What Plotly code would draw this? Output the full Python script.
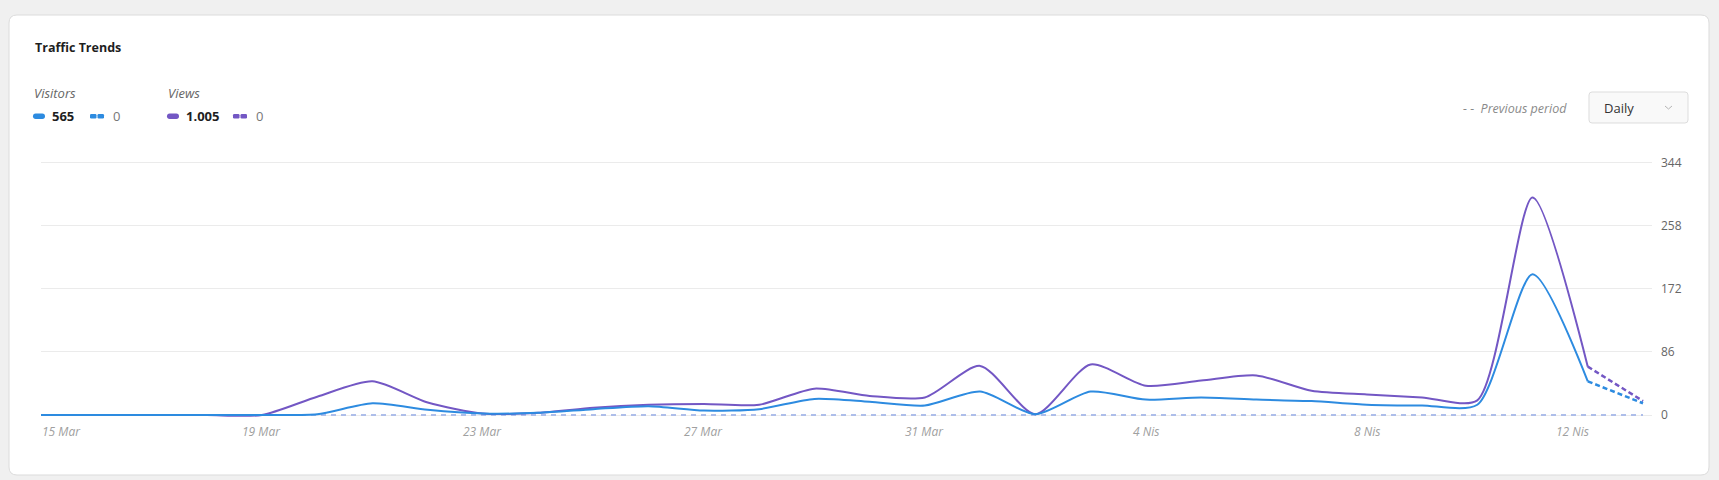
"""Traffic Trends card: daily visitors and views with previous period."""

import pandas as pd
import plotly.graph_objects as go

# ---- data -------------------------------------------------------------
dates = pd.date_range("2025-03-15", periods=30, freq="D")

visitors = [0, 0, 0, 0, 0, 1, 16, 7, 2, 3, 8, 12, 6, 8, 22, 18, 13,
            32, 1, 32, 21, 24, 21, 19, 14, 13, 14, 192, 46, 16]
views = [0, 0, 0, 0, 0, 25, 46, 17, 2, 3, 10, 14, 15, 14, 36, 26, 24,
         67, 1, 69, 40, 47, 54, 33, 28, 24, 20, 297, 66, 19]
prev_visitors = [0] * 30
prev_views = [0] * 30

tick_dates = dates[::4]
tick_labels = ["15 Mar", "19 Mar", "23 Mar", "27 Mar", "31 Mar",
               "4 Nis", "8 Nis", "12 Nis"]
y_ticks = [0, 86, 172, 258, 344]

totals = {"Visitors": ("565", "0"), "Views": ("1.005", "0")}

BLUE = "#2d8be0"
PURPLE = "#7357c4"
PREV = "#a9bbe9"
FONT = "Open Sans"

# ---- pixel helpers (plot area in page pixels) -------------------------
W, H = 1719, 480
L, R, T, B = 41, 1652, 161, 417


def px(x):
    return (x - L) / (R - L)


def py(y):
    return (B - y) / (B - T)


def rounded_path(x0, y0, x1, y1, r):
    """Rounded rectangle path in paper coords from pixel box."""
    pts = [
        ("M", [(x0 + r, y0)]),
        ("L", [(x1 - r, y0)]), ("Q", [(x1, y0), (x1, y0 + r)]),
        ("L", [(x1, y1 - r)]), ("Q", [(x1, y1), (x1 - r, y1)]),
        ("L", [(x0 + r, y1)]), ("Q", [(x0, y1), (x0, y1 - r)]),
        ("L", [(x0, y0 + r)]), ("Q", [(x0, y0), (x0 + r, y0)]),
    ]
    out = ""
    for cmd, coords in pts:
        out += cmd + " ".join(f"{px(a):.5f},{py(b):.5f}" for a, b in coords)
    return out + " Z"


fig = go.Figure()

# previous period (flat dashed)
for vals in (prev_views, prev_visitors):
    fig.add_trace(go.Scatter(
        x=dates, y=vals, mode="lines",
        line=dict(color=PREV, width=1.5, dash="5px,5px"),
        hoverinfo="skip", showlegend=False))

# current period: solid up to 12 Nis, dashed to today
for vals, color in ((views, PURPLE), (visitors, BLUE)):
    fig.add_trace(go.Scatter(
        x=dates[:29], y=vals[:29], mode="lines",
        line=dict(color=color, width=2, shape="spline", smoothing=0.7),
        showlegend=False))
    fig.add_trace(go.Scatter(
        x=dates[28:], y=vals[28:], mode="lines",
        line=dict(color=color, width=2.5, dash="5px,3px"),
        showlegend=False))

shapes = [
    # card
    dict(type="path", xref="paper", yref="paper", layer="below",
         path=rounded_path(9, 15, 1709, 475, 8),
         fillcolor="white", line=dict(color="#dcdcdc", width=1)),
    # dropdown
    dict(type="path", xref="paper", yref="paper",
         path=rounded_path(1589, 92, 1688, 123, 3),
         fillcolor="#f9f9f9", line=dict(color="#dddddd", width=1)),
    dict(type="path", xref="paper", yref="paper",
         path=f"M{px(1665):.5f},{py(106):.5f} L{px(1668.5):.5f},{py(109):.5f} "
              f"L{px(1672):.5f},{py(106):.5f}",
         line=dict(color="#b5b5b5", width=1)),
]

annotations = [
    dict(text="<b>Traffic Trends</b>", x=px(33), y=py(47),
         font=dict(size=12.5, color="#1e1e1e", family=FONT)),
    dict(text="- -  Previous period", x=px(1569), y=py(108), xanchor="right",
         font=dict(size=12.5, color="#8a8a8a", family=FONT, style="italic")),
    dict(text="Daily", x=px(1602), y=py(108),
         font=dict(size=13, color="#333333", family=FONT)),
]

# legend blocks
for x0, (name, color) in zip((33, 167), (("Visitors", BLUE), ("Views", PURPLE))):
    cur, prev = totals[name]
    annotations.append(dict(text=name, x=px(x0 - 1), y=py(93),
                            font=dict(size=13, color="#666666", family=FONT,
                                      style="italic")))
    shapes.append(dict(type="path", xref="paper", yref="paper",
                       path=rounded_path(x0, 113.5, x0 + 12, 119, 2.7),
                       fillcolor=color, line=dict(width=0)))
    annotations.append(dict(text=f"<b>{cur}</b>", x=px(x0 + 17), y=py(116),
                            font=dict(size=13, color="#1e1e1e", family=FONT)))
    dx = 57 if name == "Visitors" else 66
    for seg in (0, 7.5):
        shapes.append(dict(type="path", xref="paper", yref="paper",
                           path=rounded_path(x0 + dx + seg, 114, x0 + dx + seg + 6.5,
                                             118.5, 1.2),
                           fillcolor=color, line=dict(width=0)))
    annotations.append(dict(text=prev, x=px(x0 + dx + 21), y=py(116),
                            font=dict(size=13, color="#777777", family=FONT)))

for a in annotations:
    a.update(xref="paper", yref="paper", showarrow=False,
             xanchor=a.get("xanchor", "left"), yanchor="middle")

# x tick labels, first and last pulled inside like the original chart
shifts = [20, 0, 0, 0, 0, 0, 0, -15]
for d, lab, sh in zip(tick_dates, tick_labels, shifts):
    annotations.append(dict(
        text=lab, x=d, xref="x", y=py(431), yref="paper", xshift=sh,
        showarrow=False, xanchor="center", yanchor="middle",
        font=dict(size=12, color="#a0a0a0", family=FONT, style="italic")))

fig.update_layout(
    width=W, height=H,
    margin=dict(l=L, r=W - R, t=T, b=H - B, pad=0),
    paper_bgcolor="#f0f0f0", plot_bgcolor="white",
    font=dict(family=FONT),
    shapes=shapes, annotations=annotations,
    hovermode="x",
    xaxis=dict(
        range=[dates[0], dates[-1] + pd.Timedelta(hours=3.9)],
        showticklabels=False,
        showgrid=False, zeroline=False, showline=False, ticks="",
    ),
    yaxis=dict(
        range=[-2.73, 346.7], side="right",
        tickvals=y_ticks, ticks="", ticklabelstandoff=8,
        showgrid=True, gridcolor="#ebebeb", gridwidth=1,
        zeroline=False, showline=False,
        tickfont=dict(size=12, color="#666666", family=FONT),
    ),
)

fig.write_html("out.html", config={"displayModeBar": False},
               post_script="document.body.style.margin = '0';")
